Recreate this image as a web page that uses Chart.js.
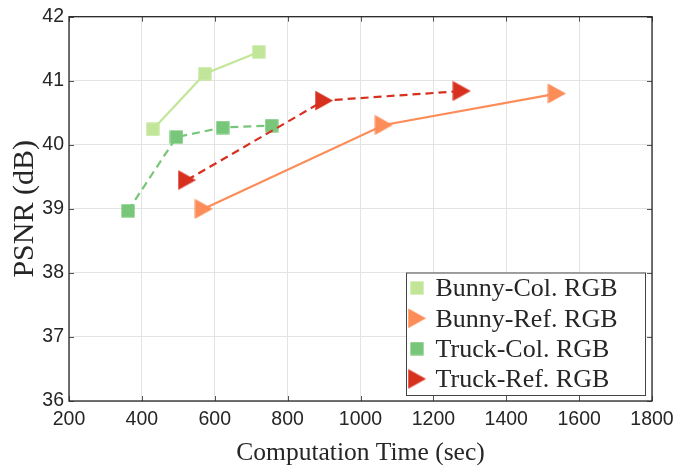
<!DOCTYPE html>
<html>
<head>
<meta charset="utf-8">
<title>PSNR vs computation time</title>
<script src="https://cdn.jsdelivr.net/npm/chart.js@4.4.1/dist/chart.umd.min.js"></script>
<style>
  html, body { margin: 0; padding: 0; background: #fff; }
  #wrap { width: 689px; height: 465px; }
</style>
</head>
<body>
<div id="wrap"><canvas id="psnrChart" width="689" height="465"></canvas></div>
<script>
// series data (time in sec, PSNR in dB)
var seriesLabels = ["Bunny-Col. RGB", "Bunny-Ref. RGB", "Truck-Col. RGB", "Truck-Ref. RGB"];

var bunnyColTime = [430, 573, 721];
var bunnyColPsnr = [40.24, 41.11, 41.45];

var bunnyRefTime = [570, 1064, 1539];
var bunnyRefPsnr = [39.0, 40.31, 40.80];

var truckColTime = [362, 495, 622, 756];
var truckColPsnr = [38.97, 40.12, 40.27, 40.30];

var truckRefTime = [524, 900, 1278];
var truckRefPsnr = [39.45, 40.69, 40.84];

var xTicks = [200, 400, 600, 800, 1000, 1200, 1400, 1600, 1800];
var yTicks = [36, 37, 38, 39, 40, 41, 42];

var colors = ["#c2e699", "#fc8d59", "#78c679", "#d7301f"];

function toPoints(xs, ys) {
    return xs.map(function(x, i) { return { x: x, y: ys[i] }; });
}

// matlab-like markers drawn into small canvases
function makeMarker(shape, color) {
    var c = document.createElement('canvas');
    var g;
    if (shape === 'square') {
        c.width = 14; c.height = 14;
        g = c.getContext('2d');
        g.fillStyle = color;
        g.fillRect(0.35, 0.35, 13.3, 13.3);
    } else {
        c.width = 19; c.height = 21;
        g = c.getContext('2d');
        g.fillStyle = color;
        g.beginPath();
        g.moveTo(0.5, 0.5);
        g.lineTo(18.5, 10.5);
        g.lineTo(0.5, 20.5);
        g.closePath();
        g.fill();
    }
    return c;
}

var markers = [
    makeMarker('square', colors[0]),
    makeMarker('tri', colors[1]),
    makeMarker('square', colors[2]),
    makeMarker('tri', colors[3])
];

// box + inward ticks, like matlab "box on"
var axesBox = {
    id: 'axesBox',
    afterDraw: function(chart) {
        var ctx = chart.ctx, a = chart.chartArea;
        var xs = chart.scales.x, ys = chart.scales.y;
        ctx.save();
        ctx.strokeStyle = '#555';
        ctx.lineWidth = 1;
        ctx.beginPath();
        xTicks.forEach(function(v) {
            var px = Math.round(xs.getPixelForValue(v)) + 0.5;
            ctx.moveTo(px, a.bottom); ctx.lineTo(px, a.bottom - 5);
            ctx.moveTo(px, a.top); ctx.lineTo(px, a.top + 5);
        });
        yTicks.forEach(function(v) {
            var py = Math.round(ys.getPixelForValue(v)) + 0.5;
            ctx.moveTo(a.left, py); ctx.lineTo(a.left + 5, py);
            ctx.moveTo(a.right, py); ctx.lineTo(a.right - 5, py);
        });
        ctx.stroke();
        ctx.strokeStyle = '#262626';
        ctx.lineWidth = 1.3;
        ctx.strokeRect(a.left, a.top, a.right - a.left, a.bottom - a.top);
        ctx.restore();
    }
};

// legend inside the lower right corner
var insideLegend = {
    id: 'insideLegend',
    afterDraw: function(chart) {
        var ctx = chart.ctx, a = chart.chartArea;
        var right = a.right - 7, bottom = a.bottom - 6;
        var w = 239, h = 122.5;
        var left = right - w, top = bottom - h;
        ctx.save();
        ctx.fillStyle = '#fff';
        ctx.fillRect(left, top, w, h);
        ctx.strokeStyle = '#444';
        ctx.lineWidth = 1;
        ctx.strokeRect(left + 0.5, top + 0.5, w, h);
        ctx.font = '26px "Liberation Serif", "Times New Roman", serif';
        ctx.textBaseline = 'middle';
        ctx.textAlign = 'left';
        ctx.fillStyle = '#262626';
        chart.data.datasets.forEach(function(ds, i) {
            var y = top + 17 + i * 30.3;
            var m = ds.pointStyle;
            ctx.drawImage(m, left + 10 - m.width / 2 + 1, y - 1.5 - m.height / 2);
            ctx.fillText(ds.label, left + 29.5, y);
        });
        ctx.restore();
    }
};

var dash = [8, 5];
var plainNumber = function(v) { return String(v); };

var ctxC = document.getElementById('psnrChart').getContext('2d');
var psnrChart = new Chart(ctxC, {
    type: 'line',
    data: {
        datasets: [{
            label: seriesLabels[0],
            data: toPoints(bunnyColTime, bunnyColPsnr),
            borderColor: colors[0],
            borderWidth: 2.2,
            pointStyle: markers[0],
            order: 4
        }, {
            label: seriesLabels[1],
            data: toPoints(bunnyRefTime, bunnyRefPsnr),
            borderColor: colors[1],
            borderWidth: 2.2,
            pointStyle: markers[1],
            order: 3
        }, {
            label: seriesLabels[2],
            data: toPoints(truckColTime, truckColPsnr),
            borderColor: colors[2],
            borderWidth: 2.2,
            borderDash: dash,
            pointStyle: markers[2],
            order: 2
        }, {
            label: seriesLabels[3],
            data: toPoints(truckRefTime, truckRefPsnr),
            borderColor: colors[3],
            borderWidth: 2.2,
            borderDash: dash,
            pointStyle: markers[3],
            order: 1
        }]
    },
    options: {
        responsive: false,
        animation: false,
        layout: { padding: { top: 13, right: 37, left: 0, bottom: 0 } },
        elements: { line: { tension: 0, fill: false } },
        plugins: {
            legend: { display: false },
            tooltip: { enabled: false }
        },
        scales: {
            x: {
                type: 'linear',
                min: 200,
                max: 1800,
                afterBuildTicks: function(s) { s.ticks = xTicks.map(function(v) { return { value: v }; }); },
                afterFit: function(s) { s.height = 64; },
                grid: { color: '#e3e3e3', drawTicks: false },
                border: { display: false },
                ticks: {
                    padding: 7,
                    color: '#262626',
                    maxRotation: 0,
                    callback: plainNumber,
                    font: { family: '"Liberation Sans", Arial, sans-serif', size: 19.5 }
                },
                title: {
                    display: true,
                    text: 'Computation Time (sec)',
                    color: '#262626',
                    padding: { top: 0, bottom: -4 },
                    font: { family: '"Liberation Serif", "Times New Roman", serif', size: 25.5 }
                }
            },
            y: {
                min: 36,
                max: 42,
                afterBuildTicks: function(s) { s.ticks = yTicks.map(function(v) { return { value: v }; }); },
                afterFit: function(s) { s.width = 69; },
                grid: { color: '#e3e3e3', drawTicks: false },
                border: { display: false },
                ticks: {
                    padding: 5,
                    color: '#262626',
                    callback: plainNumber,
                    font: { family: '"Liberation Sans", Arial, sans-serif', size: 19.5 }
                },
                title: {
                    display: true,
                    text: 'PSNR (dB)',
                    color: '#262626',
                    padding: { top: 7, bottom: 0 },
                    font: { family: '"Liberation Serif", "Times New Roman", serif', size: 30 }
                }
            }
        }
    },
    plugins: [axesBox, insideLegend]
});
</script>
</body>
</html>
